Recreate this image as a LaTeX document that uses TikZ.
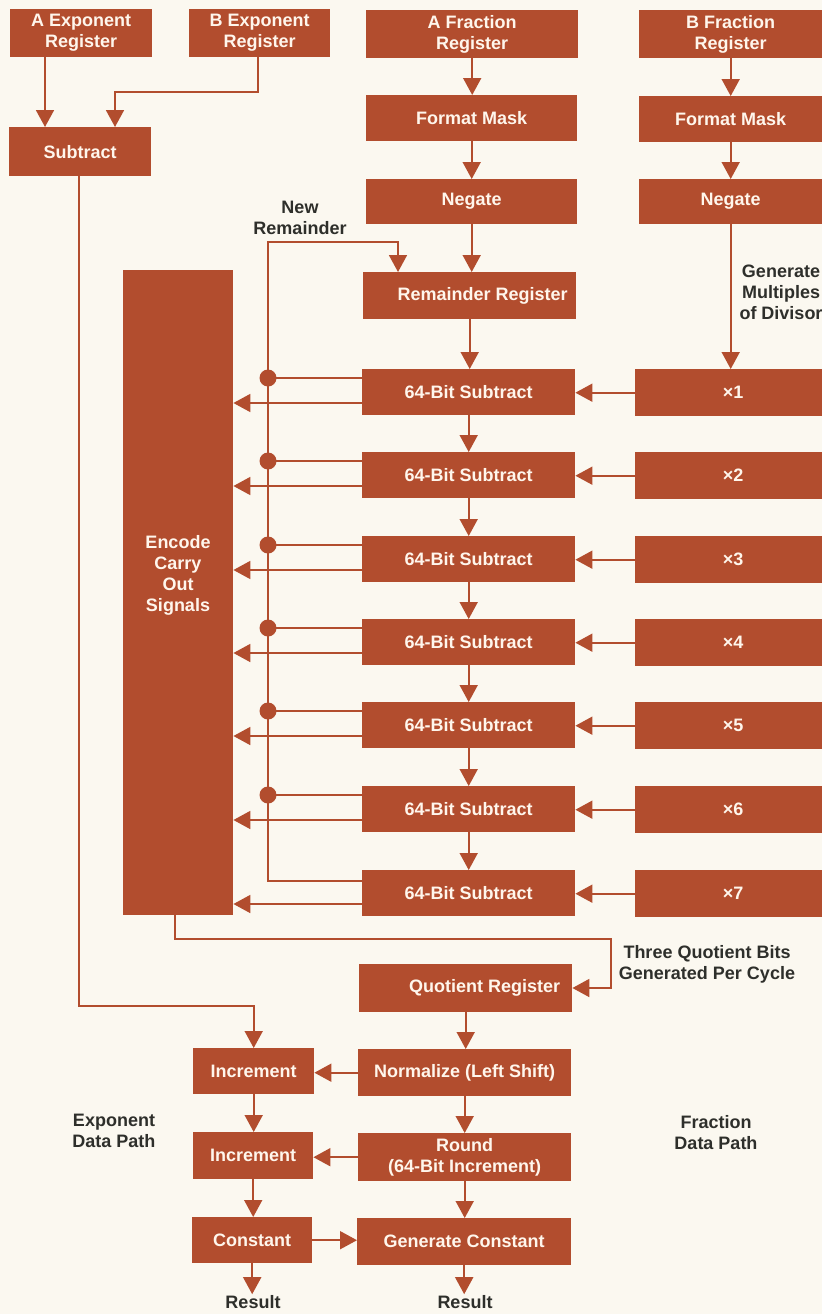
\documentclass[tikz,border=0pt]{standalone}
\usepackage{fontspec}
\setmainfont{Liberation Sans}
\usetikzlibrary{arrows.meta}
\definecolor{rust}{HTML}{B24D2E}
\definecolor{paper}{HTML}{FBF8F0}
\definecolor{ink}{HTML}{2E2F2B}
\definecolor{boxtext}{HTML}{FFF6EC}

\begin{document}
\begin{tikzpicture}[x=1pt,y=-1pt,
  blk/.style={fill=rust, draw=none, text=boxtext,
    font=\bfseries\fontsize{18}{21}\selectfont, align=center,
    inner sep=0pt, anchor=north west},
  inside/.style={text=boxtext, font=\bfseries\fontsize{18}{21}\selectfont,
    align=center, inner sep=0pt},
  wire/.style={draw=rust, line width=1.8pt},
  arr/.style={wire, -{Triangle[width=18pt,length=17pt]}},
  note/.style={text=ink, font=\bfseries\fontsize{18}{21}\selectfont,
    align=center, inner sep=0pt},
  dot/.style={circle, fill=rust, inner sep=0pt, minimum size=17pt}]

\fill[paper] (0,0) rectangle (822,1314);
\useasboundingbox (0,0) rectangle (822,1314);

% ---------- exponent inputs ----------
\node[blk, minimum width=142pt, minimum height=48pt] (aexp) at (10,9) {A Exponent\\Register};
\node[blk, minimum width=141pt, minimum height=48pt] (bexp) at (189,9) {B Exponent\\Register};
\node[blk, minimum width=142pt, minimum height=49pt] (sub) at (9,127) {Subtract};

% ---------- fraction inputs ----------
\node[blk, minimum width=212pt, minimum height=48pt] (afrac) at (366,10) {A Fraction\\Register};
\node[blk, minimum width=183pt, minimum height=48pt] (bfrac) at (639,10) {B Fraction\\Register};
\node[blk, minimum width=211pt, minimum height=46pt] (amask) at (366,95) {Format Mask};
\node[blk, minimum width=183pt, minimum height=46pt] (bmask) at (639,96) {Format Mask};
\node[blk, minimum width=211pt, minimum height=45pt] (aneg) at (366,179) {Negate};
\node[blk, minimum width=183pt, minimum height=45pt] (bneg) at (639,179) {Negate};
\node[blk, minimum width=213pt, minimum height=47pt] (rem) at (363,272) {\hspace*{26pt}Remainder Register};

% ---------- carry encoder ----------
\node[blk, minimum width=110pt, minimum height=645pt] (enc) at (123,270) {};
\node[inside] (enctext) at (178,575) {Encode\\Carry\\Out\\Signals};

% ---------- subtractor array and divisor multiples ----------
\foreach \i/\t in {1/369,2/452,3/536,4/619,5/702,6/786,7/870} {
  \node[blk, minimum width=213pt, minimum height=46pt] (sub\i) at (362,\t) {64-Bit Subtract};
  \node[blk, minimum width=187pt, minimum height=47pt] (mul\i) at (635,\t) {\hspace*{9pt}×\i};
}

% ---------- result stages ----------
\node[blk, minimum width=213pt, minimum height=48pt] (quot) at (359,964) {\hspace*{38pt}Quotient Register};
\node[blk, minimum width=121pt, minimum height=46pt] (inc1) at (193,1048) {Increment};
\node[blk, minimum width=213pt, minimum height=47pt] (norm) at (358,1049) {Normalize (Left Shift)};
\node[blk, minimum width=120pt, minimum height=47pt] (inc2) at (193,1132) {Increment};
\node[blk, minimum width=213pt, minimum height=48pt] (round) at (358,1133) {Round\\(64-Bit Increment)};
\node[blk, minimum width=120pt, minimum height=46pt] (const) at (192,1217) {Constant};
\node[blk, minimum width=214pt, minimum height=47pt] (gen) at (357,1218) {Generate Constant};

% ---------- free-standing labels ----------
\node[note] (newrem) at (300,218) {New\\Remainder};
\node[note] (genmul) at (781,292) {Generate\\Multiples\\of Divisor};
\node[note] (three) at (707,964) {Three Quotient Bits\\Generated Per Cycle};
\node[note] (expdp) at (114,1131) {Exponent\\Data Path};
\node[note] (fracdp) at (716,1133) {Fraction\\Data Path};
\node[note] (res1) at (253,1302) {Result};
\node[note] (res2) at (465,1302) {Result};

% ---------- helper coordinates ----------
\coordinate (xA) at (45,0);
\coordinate (xBe) at (258,0);
\coordinate (j1) at (115,92);
\coordinate (e1) at (79,1006);
\coordinate (q1) at (175,939);
\coordinate (q2) at (611,988);
\coordinate (bus) at (268,242);

% ---------- exponent path ----------
\draw[arr] (aexp.south -| xA) -- (sub.north -| xA);
\draw[arr] (bexp.south -| xBe) |- (j1) -- (sub.north -| j1);
\draw[arr] (sub.south -| e1) -- (e1) -| (inc1.north);
\draw[arr] (inc1.south) -- (inc1.south |- inc2.north);
\draw[arr] (inc2.south) -- (inc2.south |- const.north);
\draw[arr, shorten >=1pt] (const.south) -- (const.south |- res1.north);

% ---------- fraction path ----------
\draw[arr] (afrac.south) -- (afrac.south |- amask.north);
\draw[arr] (amask.south) -- (amask.south |- aneg.north);
\draw[arr] (aneg.south) -- (aneg.south |- rem.north);
\draw[arr] (rem.south) -- (rem.south |- sub1.north);
\draw[arr] (bfrac.south) -- (bfrac.south |- bmask.north);
\draw[arr] (bmask.south) -- (bmask.south |- bneg.north);
\draw[arr] (bneg.south) -- (bneg.south |- mul1.north);

\foreach \i/\j in {1/2,2/3,3/4,4/5,5/6,6/7}
  \draw[arr] (sub\i.south) -- (sub\i.south |- sub\j.north);

\foreach \i in {1,...,7} {
  \draw[arr] (mul\i.west) -- (mul\i.west -| sub\i.east);
  \path ([yshift=-34pt]sub\i.north west) coordinate (o\i);
  \draw[arr] (o\i) -- (o\i -| enc.east);
}

% new-remainder bus with tap points
\draw[arr] ([yshift=-11pt]sub7.north west) -| (bus) -| ([xshift=35pt]rem.north west);
\foreach \i in {1,...,6} {
  \path ([yshift=-9pt]sub\i.north west) coordinate (c\i);
  \node[dot] (d\i) at (c\i -| bus) {};
  \draw[wire] (d\i.center) -- (c\i);
}

% quotient bits into the quotient register
\draw[arr] (enc.south -| q1) -- (q1) -| (q2) -- (q2 -| quot.east);

\draw[arr] (quot.south) -- (quot.south |- norm.north);
\draw[arr] (norm.south) -- (norm.south |- round.north);
\draw[arr] (round.south) -- (round.south |- gen.north);
\draw[arr, shorten >=1pt] (gen.south) -- (gen.south |- res2.north);

\draw[arr] (norm.west) -- (norm.west -| inc1.east);
\draw[arr] (round.west) -- (round.west -| inc2.east);
\draw[arr] (const.east) -- (const.east -| gen.west);

\end{tikzpicture}
\end{document}
